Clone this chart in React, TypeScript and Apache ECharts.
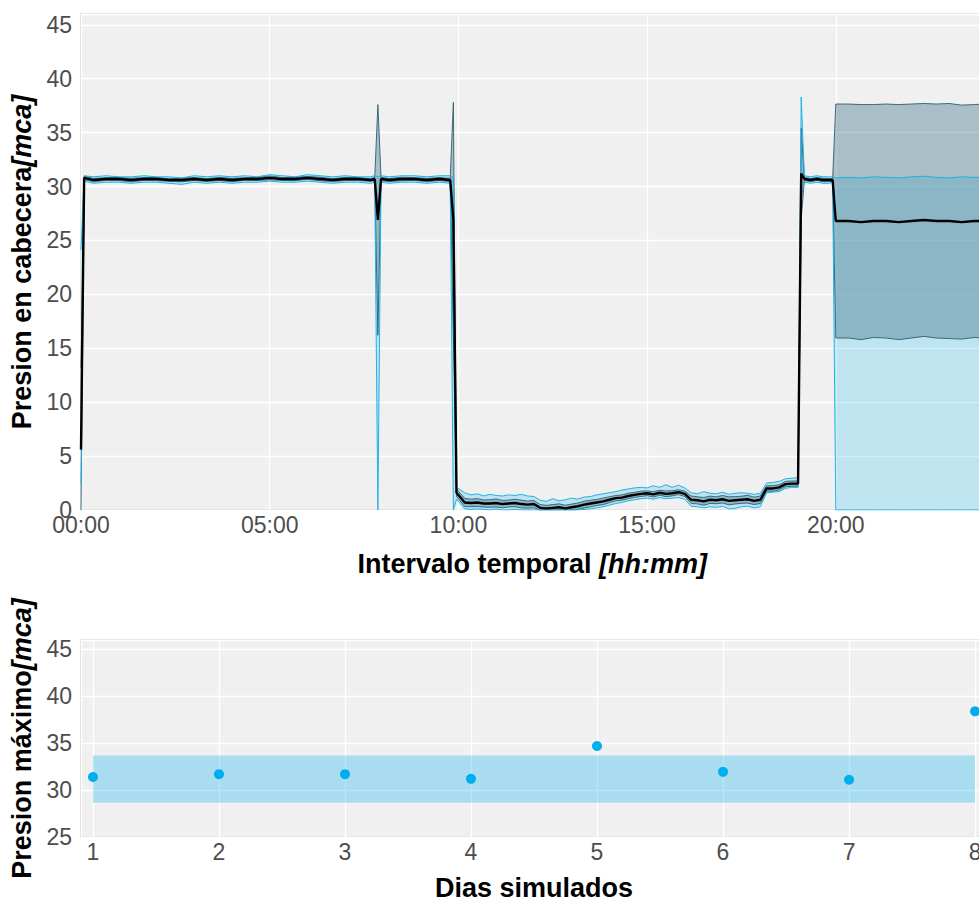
import React, { useEffect, useRef } from "react";
import * as echarts from "echarts";

// ---------- Top chart data (time in minutes since 00:00) ----------
const timeMin = [
  0, 5,
  20, 40, 60, 80, 100, 120, 140, 160, 180, 200, 220, 240, 260, 280, 300, 320, 340, 360, 380, 400, 420, 440, 460,
  467, 472, 477,
  490, 510, 530, 550, 570,
  587, 592, 597,
  610, 620, 630, 640, 650, 660, 670, 680, 690, 700, 710, 720,
  730, 740, 750, 760, 770, 780,
  790, 800, 810, 820, 830, 840,
  850, 860, 870, 880, 890,
  900, 910, 920, 930, 940, 950, 960,
  970, 980, 990, 1000, 1010, 1020, 1030, 1040, 1050, 1060, 1070, 1080,
  1090, 1100, 1110,
  1120, 1130,
  1140, 1145,
  1150, 1160, 1170, 1180, 1190, 1195,
  1200,
  1220, 1240, 1260, 1280, 1300, 1320, 1340, 1360, 1380, 1400, 1420,
  1435,
];

const meanP = [
  5.6, 30.8,
  30.6, 30.7, 30.7, 30.6, 30.7, 30.7, 30.6, 30.6, 30.7, 30.6, 30.7, 30.6, 30.7, 30.7, 30.8, 30.7, 30.7, 30.8, 30.7, 30.6, 30.7, 30.7, 30.6,
  30.7, 26.9, 30.7,
  30.6, 30.7, 30.7, 30.6, 30.7,
  30.6, 26.9, 1.6,
  0.7, 0.65, 0.7, 0.6, 0.6, 0.65, 0.55, 0.6, 0.65, 0.55, 0.5, 0.55,
  0.2, 0.15, 0.2, 0.25, 0.15, 0.25,
  0.35, 0.5, 0.6, 0.7, 0.8, 0.95,
  1.1, 1.15, 1.3, 1.4, 1.5,
  1.55, 1.45, 1.6, 1.5, 1.55, 1.65, 1.5,
  0.95, 0.9, 0.8, 0.95, 0.9, 1.0, 0.85, 0.9, 0.95, 1.0, 0.85, 0.95,
  2.0, 2.0, 2.1,
  2.4, 2.45,
  2.45, 31.2,
  30.7, 30.6, 30.7, 30.6, 30.6, 30.6,
  26.8,
  26.8, 26.7, 26.8, 26.8, 26.7, 26.8, 26.9, 26.8, 26.8, 26.7, 26.8,
  26.8,
];

const sdP = [
  7.6, 0.15,
  0.15, 0.12, 0.14, 0.16, 0.13, 0.15, 0.12, 0.17, 0.14, 0.13, 0.15, 0.16, 0.12, 0.14, 0.18, 0.13, 0.15, 0.14, 0.16, 0.13, 0.15, 0.14, 0.12,
  0.15, 10.7, 0.15,
  0.14, 0.16, 0.13, 0.15, 0.14,
  0.15, 10.9, 0.35,
  0.38, 0.35, 0.36, 0.33, 0.35, 0.37, 0.34, 0.32, 0.35, 0.36, 0.33, 0.34,
  0.3, 0.28, 0.3, 0.32, 0.29, 0.3,
  0.3, 0.32, 0.3, 0.28, 0.3, 0.27,
  0.25, 0.24, 0.26, 0.23, 0.25,
  0.22, 0.25, 0.23, 0.26, 0.24, 0.22, 0.25,
  0.35, 0.33, 0.36, 0.34, 0.32, 0.35, 0.37, 0.34, 0.33, 0.36, 0.34, 0.35,
  0.25, 0.26, 0.24,
  0.25, 0.24,
  0.25, 4.2,
  0.14, 0.15, 0.13, 0.16, 0.14, 0.15,
  10.85,
  10.85, 10.9, 10.8, 10.85, 10.9, 10.85, 10.8, 10.85, 10.9, 10.85, 10.8,
  10.85,
];

const minP = [
  2.5, 30.5,
  30.3, 30.4, 30.4, 30.3, 30.4, 30.4, 30.3, 30.2, 30.4, 30.3, 30.4, 30.3, 30.4, 30.4, 30.5, 30.4, 30.4, 30.5, 30.4, 30.3, 30.4, 30.4, 30.3,
  30.4, 0, 30.4,
  30.3, 30.4, 30.4, 30.3, 30.4,
  30.3, 0, 1.0,
  0.1, 0.05, 0.1, 0.05, 0.0, 0.1, 0.0, 0.0, 0.05, 0.0, 0.0, 0.0,
  0, 0, 0, 0, 0, 0,
  0, 0.05, 0.1, 0.2, 0.3, 0.45,
  0.6, 0.7, 0.85, 0.95, 1.05,
  1.1, 1.0, 1.15, 1.05, 1.1, 1.15, 1.0,
  0.35, 0.3, 0.2, 0.3, 0.25, 0.35, 0.1, 0.15, 0.3, 0.35, 0.2, 0.3,
  1.6, 1.65, 1.7,
  2.0, 2.1,
  2.1, 29.0,
  30.4, 30.3, 30.4, 30.3, 30.3, 30.4,
  0,
  0, 0, 0, 0, 0, 0, 0, 0, 0, 0, 0,
  0,
];

const maxP = [
  24.1, 31.0,
  30.9, 31.0, 30.9, 30.9, 31.0, 30.9, 30.9, 30.8, 31.0, 30.9, 31.0, 30.9, 31.0, 30.9, 31.1, 31.0, 30.9, 31.1, 31.0, 30.9, 31.0, 30.9, 30.9,
  31.0, 30.9, 31.0,
  30.9, 31.0, 31.0, 30.9, 31.0,
  31.0, 30.8, 2.1,
  1.6, 1.4, 1.5, 1.3, 1.45, 1.35, 1.3, 1.4, 1.35, 1.45, 1.3, 1.25,
  0.9, 0.8, 1.05, 0.85, 0.95, 1.1,
  1.0, 1.2, 1.25, 1.4, 1.5, 1.6,
  1.7, 1.85, 1.95, 2.05, 2.1,
  2.05, 2.25, 2.1, 2.35, 2.1, 2.3, 2.05,
  1.6, 1.5, 1.7, 1.55, 1.5, 1.65, 1.45, 1.55, 1.6, 1.55, 1.45, 1.55,
  2.5, 2.55, 2.65,
  2.9, 2.95,
  3.0, 38.3,
  31.0, 30.9, 31.0, 30.9, 30.9, 30.9,
  30.8,
  30.85, 30.8, 30.9, 30.85, 30.8, 30.9, 30.95, 30.85, 30.8, 30.9, 30.85,
  30.85,
];

// ---------- Bottom chart data ----------
const dias = [1, 2, 3, 4, 5, 6, 7, 8];
const presionMax = [31.4, 31.7, 31.7, 31.2, 34.7, 31.95, 31.1, 38.4];
const bandaDias = [1, 8];
const bandaPresion = [28.65, 33.7];

const FONT = '"Liberation Sans", Arial, Helvetica, sans-serif';
const LABEL_COLOR = "#4D4D4D";
const PANEL_BG = "#F0F0F0";
const BORDER = "#D6D6D6";

const lowerSd = meanP.map((m, i) => Math.max(0, m - sdP[i]));
const upperSd = meanP.map((m, i) => m + sdP[i]);

function ribbon(lo: number[], hi: number[], fill: string, z: number) {
  return {
    type: "custom",
    xAxisIndex: 0,
    yAxisIndex: 0,
    silent: true,
    z,
    data: timeMin.map((t, i) => [t, lo[i], hi[i]]),
    encode: { x: 0, y: [1, 2] },
    renderItem: (params: any, api: any) => {
      if (params.dataIndex !== 0) return null;
      const pts: number[][] = [];
      for (let i = 0; i < timeMin.length; i++) pts.push(api.coord([timeMin[i], hi[i]]));
      for (let i = timeMin.length - 1; i >= 0; i--) pts.push(api.coord([timeMin[i], lo[i]]));
      return { type: "polygon", shape: { points: pts }, style: { fill, stroke: null } };
    },
  };
}

function line(vals: number[], color: string, width: number, z: number) {
  return {
    type: "line",
    xAxisIndex: 0,
    yAxisIndex: 0,
    data: timeMin.map((t, i) => [t, vals[i]]),
    showSymbol: false,
    symbol: "none",
    silent: true,
    z,
    lineStyle: { color, width },
  };
}

const hhmm = (v: number) => {
  if (Math.abs(v % 300) > 1e-6) return "";
  const h = Math.floor(v / 60);
  const m = Math.round(v % 60);
  return `${String(h).padStart(2, "0")}:${String(m).padStart(2, "0")}`;
};

const titleStyle = () => ({
  fontFamily: FONT,
  fontSize: 27,
  lineHeight: 28,
  fontWeight: "bold" as const,
  color: "#000",
  rich: {
    i: { fontFamily: FONT, fontSize: 27, lineHeight: 28, fontWeight: "bold", fontStyle: "italic", color: "#000" },
  },
});

export default function App() {
  const ref = useRef<HTMLDivElement>(null);
  useEffect(() => {
    document.body.style.margin = "0";
    document.body.style.overflow = "hidden";
    document.documentElement.style.overflow = "hidden";
    if (!ref.current) return;
    const chart = echarts.init(ref.current, undefined, { renderer: "svg" });
    const labelStyle = { color: LABEL_COLOR, fontSize: 23, fontFamily: FONT };
    const split = { show: true, lineStyle: { color: "#FFFFFF", width: 1.3 } };
    chart.setOption({
      animation: false,
      backgroundColor: "#FFFFFF",
      grid: [
        {
          left: 81, top: 14, width: 902.6, height: 496, show: true,
          backgroundColor: PANEL_BG, borderColor: BORDER, borderWidth: 1.5, outerBoundsMode: "none",
        },
        {
          left: 81, top: 640, width: 906, height: 197, show: true,
          backgroundColor: PANEL_BG, borderColor: BORDER, borderWidth: 1.5, outerBoundsMode: "none",
        },
      ],
      xAxis: [
        {
          gridIndex: 0,
          type: "value",
          min: 0,
          max: 1435,
          interval: 300,
          axisLine: { show: false },
          axisTick: { show: false },
          splitLine: split,
          axisLabel: { ...labelStyle, margin: 3, formatter: hhmm },
          name: "Intervalo temporal {i|[hh:mm]}",
          nameLocation: "middle",
          nameGap: 40,
          nameTextStyle: titleStyle(),
        },
        {
          gridIndex: 1,
          type: "value",
          min: 0.905,
          max: 8.095,
          minInterval: 1,
          maxInterval: 1,
          splitNumber: 7,
          axisLine: { show: false },
          axisTick: { show: false },
          splitLine: split,
          axisLabel: {
            ...labelStyle,
            margin: 3,
            formatter: (v: number) => (Math.abs(v - Math.round(v)) < 1e-6 ? String(Math.round(v)) : ""),
          },
          name: "Dias simulados",
          nameLocation: "middle",
          nameGap: 37,
          nameTextStyle: titleStyle(),
        },
      ],
      yAxis: [
        {
          gridIndex: 0,
          type: "value",
          min: 0,
          max: 46,
          interval: 5,
          axisLine: { show: false },
          axisTick: { show: false },
          splitLine: split,
          axisLabel: { ...labelStyle, margin: 9, formatter: (v: number) => (v % 5 === 0 ? String(v) : "") },
          name: "Presion en cabecera{i|[mca]}",
          nameLocation: "middle",
          nameGap: 42,
          nameTextStyle: titleStyle(),
        },
        {
          gridIndex: 1,
          type: "value",
          min: 25,
          max: 46,
          interval: 5,
          axisLine: { show: false },
          axisTick: { show: false },
          splitLine: split,
          axisLabel: { ...labelStyle, margin: 9, formatter: (v: number) => (v % 5 === 0 ? String(v) : "") },
          name: "Presion máximo{i|[mca]}",
          nameLocation: "middle",
          nameGap: 42,
          nameTextStyle: titleStyle(),
        },
      ],
      series: [
        ribbon(minP, maxP, "rgba(0,174,239,0.2)", 2),
        ribbon(lowerSd, upperSd, "rgba(37,97,120,0.35)", 3),
        line(lowerSd, "#2E5F70", 0.9, 4),
        line(upperSd, "#2E5F70", 0.9, 4),
        line(minP, "#1DB3E8", 1, 5),
        line(maxP, "#1DB3E8", 1, 5),
        line(meanP, "#000000", 2.4, 6),
        {
          type: "scatter",
          xAxisIndex: 1,
          yAxisIndex: 1,
          data: dias.map((d, i) => [d, presionMax[i]]),
          symbolSize: 10,
          itemStyle: { color: "#00AEEF", opacity: 1 },
          silent: true,
          z: 5,
          markArea: {
            silent: true,
            itemStyle: { color: "rgba(0,174,239,0.29)" },
            data: [[{ coord: [bandaDias[0], bandaPresion[0]] }, { coord: [bandaDias[1], bandaPresion[1]] }]],
          },
        },
      ],
    });
    return () => chart.dispose();
  }, []);
  return <div ref={ref} style={{ width: 1000, height: 902 }} />;
}
